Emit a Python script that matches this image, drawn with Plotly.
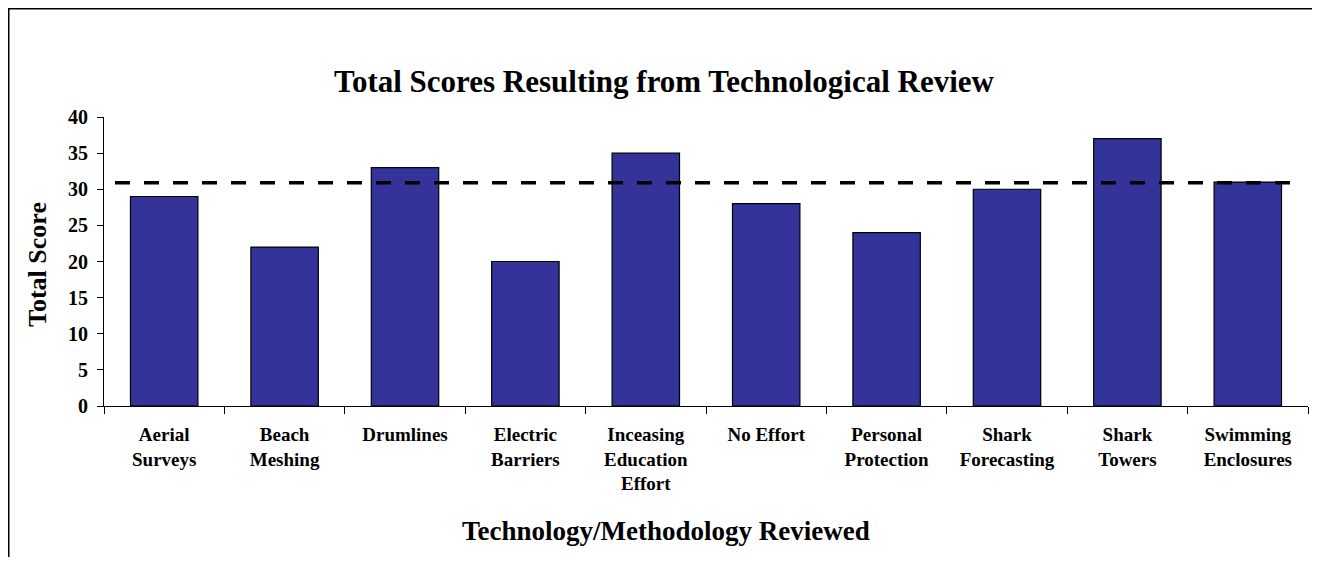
import plotly.graph_objects as go

categories = ["Aerial<br>Surveys", "Beach<br>Meshing", "Drumlines", "Electric<br>Barriers",
              "Inceasing<br>Education<br>Effort", "No Effort", "Personal<br>Protection",
              "Shark<br>Forecasting", "Shark<br>Towers", "Swimming<br>Enclosures"]
scores = [29, 22, 33, 20, 35, 28, 24, 30, 37, 31]
threshold = 30.9
y_ticks = [0, 5, 10, 15, 20, 25, 30, 35, 40]

FONT = "Liberation Serif"
W, H = 1304, 549          # page body has an 8px margin
L, R, T, B = 96, 4, 109, 151
PW, PH = W - L - R, H - T - B


def px_x(fx):
    return (fx - L) / PW


def px_y(fy):
    return (H - B - fy) / PH


fig = go.Figure()
fig.add_trace(go.Bar(
    x=categories, y=scores,
    marker=dict(color="#333399", line=dict(color="black", width=1.2)),
    width=0.56, showlegend=False, hoverinfo="x+y",
))
fig.add_shape(type="line", xref="paper", yref="y", x0=px_x(107), x1=px_x(1296),
              y0=threshold, y1=threshold,
              line=dict(color="black", width=3.5, dash="15px,14px"))
# outer frame: only the left and top edges fall inside the window
fig.add_shape(type="line", xref="paper", yref="paper", x0=px_x(0.5), x1=px_x(0.5),
              y0=px_y(0), y1=px_y(H), line=dict(color="black", width=2))
fig.add_shape(type="line", xref="paper", yref="paper", x0=px_x(0), x1=px_x(W),
              y0=px_y(0.5), y1=px_y(0.5), line=dict(color="black", width=2))

fig.update_layout(
    width=W, height=H,
    margin=dict(l=L, r=R, t=T, b=B),
    paper_bgcolor="white", plot_bgcolor="white",
    font=dict(family=FONT, color="black"),
    title=dict(text="Total Scores Resulting from Technological Review",
               x=656 / W, xanchor="center", y=1 - 73 / H, yanchor="middle",
               font=dict(size=31, family=FONT, weight="bold")),
    xaxis=dict(showline=True, linecolor="black", linewidth=1.2,
               ticks="outside", ticklen=7, tickcolor="black", tickson="boundaries",
               tickfont=dict(size=19, family=FONT, weight="bold"), ticklabelstandoff=11,
               showgrid=False),
    yaxis=dict(range=[0, 40], tickvals=y_ticks, showline=True, linecolor="black", linewidth=1.2,
               ticks="outside", ticklen=6, tickcolor="black",
               tickfont=dict(size=20, family=FONT, weight="bold"), ticklabelstandoff=5,
               showgrid=False, zeroline=False),
    annotations=[
        dict(text="Technology/Methodology Reviewed", xref="paper", yref="paper",
             x=px_x(657.5), y=px_y(523), xanchor="center", yanchor="middle",
             showarrow=False, font=dict(size=27, family=FONT, weight="bold")),
        dict(text="Total Score", xref="paper", yref="paper", textangle=-90,
             x=px_x(29), y=px_y(257), xanchor="center", yanchor="middle",
             showarrow=False, font=dict(size=26, family=FONT, weight="bold")),
    ],
)
fig.write_html("out.html")
